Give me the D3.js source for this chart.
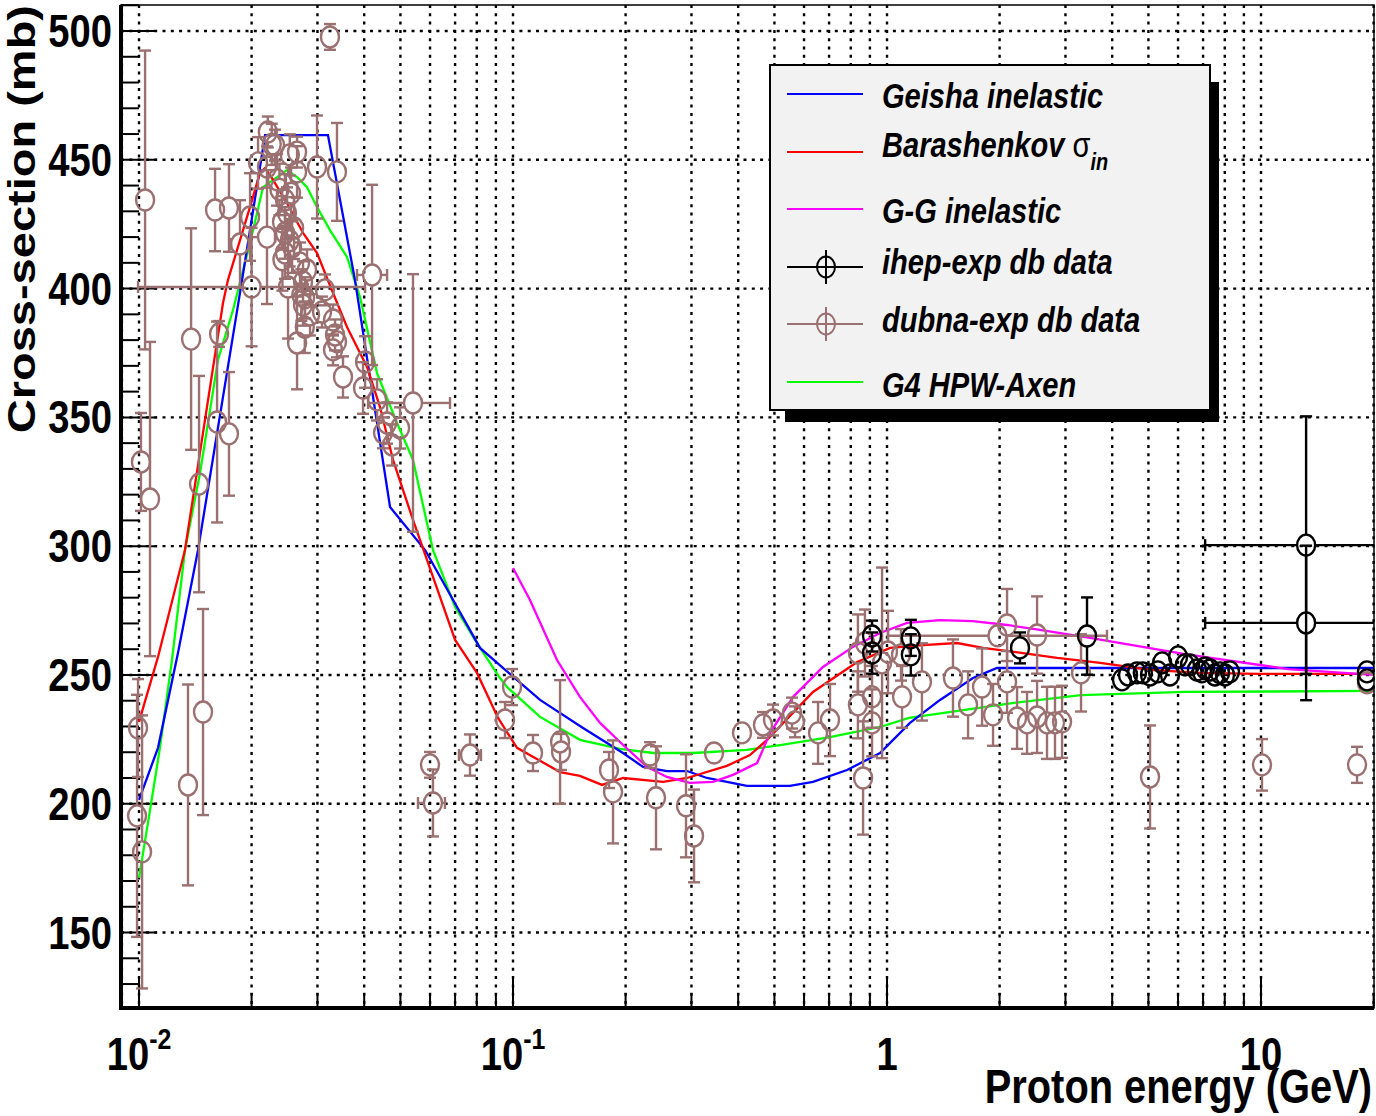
<!DOCTYPE html>
<html>
<head>
<meta charset="utf-8">
<script src="https://cdn.jsdelivr.net/npm/d3@7"></script>
<style>
    body { margin: 0; background: #fff; }
    svg { display: block; }
    text { font-family: "Liberation Sans", Arial, sans-serif; font-weight: bold; }
</style>
</head>
<body>
<svg id="chart" width="1376" height="1116"></svg>
<script>
// ---- data (energy in GeV, cross-section in mb) ----
var geishaE = [0.01, 0.01124, 0.01271, 0.01438, 0.01886, 0.02173, 0.032, 0.0378, 0.0469, 0.0582, 0.0816, 0.1181, 0.1539, 0.1968, 0.2227, 0.258, 0.292, 0.33, 0.422, 0.55, 0.634, 0.782, 0.958, 1.152, 1.386, 1.698, 1.968, 20.05];
var geishaS = [201.5, 221.7, 258.5, 298.5, 403.3, 459.6, 459.6, 403.3, 315.2, 298.5, 260.5, 240.3, 229.4, 219.7, 214.3, 212.7, 212.7, 210.0, 206.9, 206.9, 208.5, 213.1, 219.7, 231.4, 240.3, 248.8, 252.7, 252.7];

var barashE = [0.01, 0.01124, 0.01327, 0.01677, 0.01729, 0.01981, 0.02106, 0.02173, 0.02282, 0.02487, 0.02745, 0.02992, 0.03302, 0.03598, 0.04071, 0.0441, 0.04777, 0.05402, 0.07, 0.0801, 0.0912, 0.1025, 0.1336, 0.151, 0.173, 0.197, 0.252, 0.292, 0.373, 0.43, 0.478, 0.634, 0.832, 1.019, 1.248, 1.538, 1.806, 2.31, 2.85, 3.715, 5.05, 6.87, 9.93, 20.05];
var barashS = [231.8, 257.0, 298.5, 394.4, 403.3, 431.7, 444.9, 446.8, 442.2, 433.2, 421.6, 413.8, 398.3, 385.1, 369.6, 354.0, 333.5, 310.2, 263.6, 250.8, 233.3, 221.7, 212.3, 210.8, 207.3, 210.0, 208.5, 210.0, 214.7, 218.9, 224.8, 243.4, 255.0, 260.5, 261.6, 262.4, 260.5, 258.5, 256.6, 254.7, 252.0, 250.8, 250.4, 250.4];

var ggE = [0.1, 0.111, 0.1311, 0.151, 0.1709, 0.197, 0.2282, 0.258, 0.297, 0.3426, 0.3874, 0.4493, 0.487, 0.561, 0.674, 0.811, 0.958, 1.131, 1.386, 1.698, 2.094, 2.566, 3.49, 6.26, 11.8, 20.05];
var ggS = [291.5, 279.1, 255.8, 241.5, 231.4, 222.8, 214.3, 210.4, 208.1, 208.5, 211.2, 215.8, 227.5, 241.5, 253.1, 260.9, 266.3, 270.2, 271.3, 270.9, 269.4, 267.5, 264.4, 258.1, 252.3, 250.0];

var axenE = [0.01, 0.01083, 0.01138, 0.01225, 0.01327, 0.01456, 0.01626, 0.01784, 0.01981, 0.02146, 0.02339, 0.02487, 0.02646, 0.02813, 0.02992, 0.0324, 0.03598, 0.03898, 0.04329, 0.04896, 0.05402, 0.06109, 0.07, 0.0801, 0.0923, 0.0964, 0.1181, 0.151, 0.1932, 0.2368, 0.303, 0.422, 0.518, 0.704, 0.958, 1.145, 2.16, 3.3, 6.26, 20.05];
var axenS = [171.2, 202.2, 222.0, 255.8, 298.5, 328.4, 372.3, 391.7, 417.7, 439.4, 443.3, 446.0, 443.3, 439.4, 431.7, 422.7, 412.3, 396.7, 367.2, 347.8, 333.5, 298.5, 276.4, 262.4, 248.8, 245.3, 233.7, 224.8, 221.3, 219.7, 219.7, 220.9, 222.8, 225.9, 229.8, 233.3, 239.1, 242.2, 243.4, 243.8];

var ihepE = [0.912, 0.912, 1.158, 1.158, 2.268, 3.426, 4.249, 4.41, 4.66, 4.83, 5.05, 5.3, 5.44, 5.71, 6.0, 6.26, 6.46, 6.74, 6.95, 7.09, 7.31, 7.53, 7.77, 8.01, 8.26, 19.2, 19.2];
var ihepS = [265.1, 258.5, 264.4, 257.8, 260.5, 265.1, 248.1, 250.0, 250.8, 250.8, 250.0, 251.2, 254.7, 250.0, 257.0, 253.9, 253.9, 251.9, 251.2, 252.7, 251.9, 250.0, 250.8, 250.0, 251.2, 251.2, 248.1];
var ihepErr = [6, 8, 7, 8, 6, 15, 1, 1, 1, 1, 1, 1, 1, 1, 1, 1, 1, 1, 1, 1, 1, 1, 1, 1, 1, 1, 1];
// ihep points with an energy bin
var ihepWideE = [13.2, 13.2];
var ihepWideS = [300.4, 270.2];
var ihepWideErr = [50, 30];
var ihepWideLo = [7.09, 7.09];
var ihepWideHi = [24.5, 24.5];

var dubnaE = [0.01038, 0.01012, 0.0107, 0.00994, 0.00988, 0.01019, 0.01352, 0.01483, 0.01447, 0.01378,
    0.01637, 0.01617, 0.0174, 0.01597, 0.0174, 0.01981, 0.02503, 0.02992, 0.03383, 0.0324,
    0.0221, 0.0231, 0.02646, 0.0253, 0.02081, 0.02199, 0.02646, 0.02339, 0.02457, 0.02487,
    0.02412, 0.02457, 0.02566, 0.02457, 0.02695, 0.02813, 0.02745, 0.0278, 0.02745, 0.02866,
    0.03143, 0.03086, 0.03302, 0.02646, 0.03343, 0.03383, 0.03302, 0.03511, 0.04022, 0.03972,
    0.04329, 0.04605, 0.04989, 0.04492, 0.04749, 0.05998, 0.0952, 0.0994, 0.1131, 0.1336,
    0.1344, 0.1806, 0.1851, 0.2325, 0.2412, 0.2901, 0.3048, 0.3447, 0.4096, 0.466,
    0.4957, 0.5572, 0.5675, 0.654, 0.704, 0.836, 0.836, 0.873, 0.863, 0.912,
    0.912, 0.97, 1.006, 1.097, 1.09, 1.24, 1.501, 1.647, 1.795, 1.921,
    2.094, 2.094, 2.227, 2.368, 2.519, 2.519, 2.678, 2.813, 2.938, 3.302,
    5.05, 10.06, 18.06, 19.2,
    0.02264, 0.02374, 0.0255, 0.02598, 0.02528, 0.02418, 0.02717, 0.02775];
var dubnaS = [434.4, 332.7, 318.3, 229.4, 195.3, 181.3, 207.3, 235.6, 324.1, 380.4,
    382.4, 348.2, 343.6, 430.5, 431.3, 427.8, 400.6, 447.2, 445.3, 497.7,
    460.8, 455.7, 453.0, 451.9, 448.8, 447.2, 445.3, 442.2, 434.4, 429.3,
    425.9, 421.6, 416.1, 413.8, 409.9, 407.2, 402.6, 396.4, 393.6, 389.8,
    399.5, 390.9, 387.8, 378.9, 382.0, 379.3, 376.2, 365.7, 371.5, 361.4,
    356.8, 347.8, 345.9, 344.0, 339.3, 215.1, 232.5, 245.3, 219.7, 224.0,
    220.1, 213.1, 204.6, 218.9, 202.3, 199.2, 187.5, 219.7, 227.5, 230.6,
    232.5, 235.2, 231.8, 227.5, 232.5, 238.4, 258.5, 262.4, 210.0, 241.5,
    231.4, 254.7, 258.9, 241.5, 257.8, 247.3, 248.8, 238.4, 245.3, 234.5,
    269.4, 247.3, 233.3, 231.4, 265.5, 233.7, 231.4, 231.4, 231.8, 250.8,
    210.4, 215.1, 215.1, 247.0,
    456.0, 438.5, 437.0, 423.5, 418.6, 411.2, 397.5, 385.0];
var dubnaErr = [58, 19, 61, 19, 47, 53, 39, 40, 42, 43,
    5, 39, 24, 16, 17, 17, 20, 20, 19, 5,
    6, 6, 6, 8, 10, 8, 10, 10, 10, 10,
    10, 10, 10, 10, 8, 8, 8, 8, 8, 8,
    6, 6, 6, 18, 6, 6, 6, 8, 10, 10,
    8, 8, 8, 6, 8, 5, 7, 7, 7, 24,
    7, 7, 20, 5, 20, 20, 18, 4, 4, 5,
    6, 6, 6, 12, 14, 13, 15, 13, 22, 12,
    13, 37, 16, 12, 10, 15, 15, 13, 15, 12,
    14, 12, 12, 12, 15, 14, 14, 14, 14, 15,
    20, 10, 7, 4,
    8, 10, 10, 12, 10, 12, 10, 10];
// dubna points with an energy bin
var dubnaWideE = [0.01862, 0.02199, 0.02, 0.04199, 0.05402, 0.06109, 0.07674, 1.974];
var dubnaWideS = [417.3, 420.0, 400.6, 405.3, 355.6, 200.3, 218.9, 265.2];
var dubnaWideErr = [17, 26, 23, 35, 50, 13, 8, 3];
var dubnaWideLo = [0.01762, 0.01981, 0.00994, 0.03827, 0.04097, 0.05571, 0.0717, 1.006];
var dubnaWideHi = [0.01968, 0.0231, 0.04022, 0.04605, 0.06785, 0.06577, 0.0821, 3.874];

var yMajorTicks = [150, 200, 250, 300, 350, 400, 450, 500];
var xTickLabels = [
    {v: 0.01, base: "10", exp: "-2"},
    {v: 0.1, base: "10", exp: "-1"},
    {v: 1, base: "1", exp: ""},
    {v: 10, base: "10", exp: ""}
];
var legendItems = ["Geisha inelastic", "Barashenkov ", "G-G inelastic", "ihep-exp db data", "dubna-exp db data", "G4 HPW-Axen"];

(function crossSection() {

    var svg = d3.select("#chart"),
        pLeft = 121, pRight = 1374, pTop = 5, pBottom = 1008;

    var brown = "#9b7070";
    var squeeze = 0.83;   // the fonts in the picture are narrow

    var x = d3.scaleLog().domain([0.00895, 20.05]).range([pLeft, pRight]);
    var y = d3.scaleLinear().domain([120.7, 510.1]).range([pBottom, pTop]);

    svg.append("defs").append("clipPath").attr("id", "plotClip")
        .append("rect")
        .attr("x", pLeft).attr("y", pTop)
        .attr("width", pRight - pLeft).attr("height", pBottom - pTop);

    // grid
    var xTicks = x.ticks().filter(function (d) { return d >= 0.00895 && d <= 20.05; });
    var grid = svg.append("g").attr("stroke", "#000").attr("stroke-width", 2.4).attr("stroke-dasharray", "3,5.3");
    grid.selectAll(".vg").data(xTicks).enter().append("line")
        .attr("x1", function (d) { return x(d); }).attr("x2", function (d) { return x(d); })
        .attr("y1", pTop).attr("y2", pBottom);
    grid.selectAll(".hg").data(yMajorTicks).enter().append("line")
        .attr("x1", pLeft).attr("x2", pRight)
        .attr("y1", function (d) { return y(d); }).attr("y2", function (d) { return y(d); });

    // ticks
    var ticks = svg.append("g").attr("stroke", "#000").attr("stroke-width", 2);
    var yMinor = d3.range(130, 511, 10);
    ticks.selectAll(".yt").data(yMinor).enter().append("line")
        .attr("x1", pLeft)
        .attr("x2", function (d) { return pLeft + (d % 50 === 0 ? 36 : 18); })
        .attr("y1", function (d) { return y(d); }).attr("y2", function (d) { return y(d); });
    ticks.selectAll(".xt").data(xTicks).enter().append("line")
        .attr("x1", function (d) { return x(d); }).attr("x2", function (d) { return x(d); })
        .attr("y1", pBottom)
        .attr("y2", function (d) {
            var m = d / Math.pow(10, Math.floor(Math.log10(d) + 1e-9));
            return pBottom - (Math.abs(m - 1) < 1e-6 ? 30 : 15);
        });

    // curves
    var plot = svg.append("g").attr("clip-path", "url(#plotClip)");
    var line = d3.line().x(function (d) { return x(d[0]); }).y(function (d) { return y(d[1]); });

    function curve(es, ss, color) {
        plot.append("path")
            .datum(d3.zip(es, ss))
            .attr("d", line)
            .attr("fill", "none")
            .attr("stroke", color)
            .attr("stroke-width", 2.3);
    }
    curve(axenE, axenS, "#00ff00");
    curve(geishaE, geishaS, "#0000ff");
    curve(barashE, barashS, "#ff0000");
    curve(ggE, ggS, "#ff00ff");

    // data points with error bars
    var rx = 9, ry = 10.5, cap = 6;

    function points(es, ss, errs, los, his, color) {
        var g = plot.append("g").attr("stroke", color).attr("stroke-width", 2.4).attr("fill", "none");
        es.forEach(function (e, i) {
            var cx = x(e), cy = y(ss[i]);
            var yt = y(ss[i] + errs[i]), yb = y(ss[i] - errs[i]);
            if (cy - yt > ry) {
                g.append("line").attr("x1", cx).attr("x2", cx).attr("y1", yt).attr("y2", cy - ry);
                g.append("line").attr("x1", cx).attr("x2", cx).attr("y1", cy + ry).attr("y2", yb);
                g.append("line").attr("x1", cx - cap).attr("x2", cx + cap).attr("y1", yt).attr("y2", yt);
                g.append("line").attr("x1", cx - cap).attr("x2", cx + cap).attr("y1", yb).attr("y2", yb);
            }
            if (los) {
                var xl = x(los[i]), xr = x(his[i]);
                g.append("line").attr("x1", xl).attr("x2", cx - rx).attr("y1", cy).attr("y2", cy);
                g.append("line").attr("x1", cx + rx).attr("x2", xr).attr("y1", cy).attr("y2", cy);
                g.append("line").attr("x1", xl).attr("x2", xl).attr("y1", cy - cap).attr("y2", cy + cap);
                g.append("line").attr("x1", xr).attr("x2", xr).attr("y1", cy - cap).attr("y2", cy + cap);
            }
            g.append("ellipse").attr("cx", cx).attr("cy", cy).attr("rx", rx).attr("ry", ry);
        });
    }
    points(dubnaE, dubnaS, dubnaErr, null, null, brown);
    points(dubnaWideE, dubnaWideS, dubnaWideErr, dubnaWideLo, dubnaWideHi, brown);
    points(ihepE, ihepS, ihepErr, null, null, "#000");
    points(ihepWideE, ihepWideS, ihepWideErr, ihepWideLo, ihepWideHi, "#000");

    // frame and axes
    svg.append("rect")
        .attr("x", pLeft).attr("y", pTop)
        .attr("width", pRight - pLeft).attr("height", pBottom - pTop)
        .attr("fill", "none").attr("stroke", "#000").attr("stroke-width", 1.5);
    svg.append("line").attr("x1", pLeft).attr("x2", pLeft).attr("y1", pTop).attr("y2", pBottom + 2)
        .attr("stroke", "#000").attr("stroke-width", 4);
    svg.append("line").attr("x1", pLeft - 2).attr("x2", pRight).attr("y1", pBottom).attr("y2", pBottom)
        .attr("stroke", "#000").attr("stroke-width", 4);

    // text helper: narrow bold text
    function label(px, py, str, size, anchor) {
        return svg.append("text")
            .attr("transform", "translate(" + px + "," + py + ") scale(" + squeeze + ",1)")
            .attr("text-anchor", anchor)
            .style("font-size", size + "px")
            .text(str);
    }

    yMajorTicks.forEach(function (v) {
        label(112, y(v) + 16, v, 46, "end");
    });

    xTickLabels.forEach(function (t) {
        var txt = label(x(t.v), 1070, t.base, 46, "middle");
        if (t.exp) {
            txt.append("tspan").attr("dy", -21).style("font-size", "30px").text(t.exp);
        }
    });

    label(1372, 1103, "Proton energy (GeV)", 48, "end");

    svg.append("text")
        .attr("transform", "translate(35,5) rotate(-90) scale(1," + squeeze + ")")
        .attr("text-anchor", "end")
        .style("font-size", "47px")
        .text("Cross-section (mb)");

    // legend
    var legend = svg.append("g");
    legend.append("rect").attr("x", 785).attr("y", 82).attr("width", 434).attr("height", 340).attr("fill", "#000");
    legend.append("rect").attr("x", 770).attr("y", 65).attr("width", 440).attr("height", 345)
        .attr("fill", "#f2f2f2").attr("stroke", "#000").attr("stroke-width", 2);

    var legendRows = [
        {y: 94, base: 108, color: "#0000ff", marker: false},
        {y: 152, base: 157, color: "#ff0000", marker: false},
        {y: 209, base: 223, color: "#ff00ff", marker: false},
        {y: 267, base: 274, color: "#000", marker: true},
        {y: 324, base: 332, color: brown, marker: true},
        {y: 382, base: 397, color: "#00ff00", marker: false}
    ];

    legendRows.forEach(function (r, i) {
        legend.append("line").attr("x1", 787).attr("x2", 863).attr("y1", r.y).attr("y2", r.y)
            .attr("stroke", r.color).attr("stroke-width", 2);
        if (r.marker) {
            legend.append("line").attr("x1", 826).attr("x2", 826).attr("y1", r.y - 17).attr("y2", r.y + 17)
                .attr("stroke", r.color).attr("stroke-width", 2);
            legend.append("ellipse").attr("cx", 826).attr("cy", r.y).attr("rx", rx).attr("ry", ry)
                .attr("fill", "none").attr("stroke", r.color).attr("stroke-width", 2);
        }
        var t = legend.append("text")
            .attr("transform", "translate(882," + r.base + ") scale(" + squeeze + ",1)")
            .style("font-size", "35px")
            .style("font-style", "italic")
            .text(legendItems[i]);
        if (i === 1) {
            t.append("tspan").style("font-style", "normal").style("font-weight", "normal").text("\u03c3");
            t.append("tspan").attr("dy", 13).style("font-size", "24px").text("in");
        }
    });

}());
</script>
</body>
</html>
